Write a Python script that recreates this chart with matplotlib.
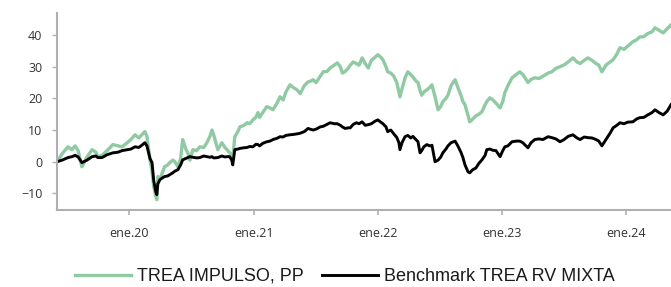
import matplotlib
matplotlib.use("Agg")
import matplotlib.pyplot as plt
import pandas as pd


fechas = ["2019-06-04","2019-06-19","2019-07-06","2019-07-18","2019-07-27","2019-08-05","2019-08-16","2019-08-31",
          "2019-09-15","2019-09-26","2019-10-02","2019-10-14","2019-10-29","2019-11-15","2019-11-30","2019-12-12",
          "2019-12-27","2020-01-07","2020-01-19","2020-01-30","2020-02-08","2020-02-17","2020-02-23","2020-03-03",
          "2020-03-09","2020-03-14","2020-03-20","2020-03-23","2020-03-26","2020-04-01","2020-04-10","2020-04-15",
          "2020-04-24","2020-04-30","2020-05-09","2020-05-15","2020-05-24","2020-06-01","2020-06-07","2020-06-16",
          "2020-06-22","2020-06-28","2020-07-07","2020-07-18","2020-07-27","2020-08-08","2020-08-17","2020-08-26",
          "2020-09-01","2020-09-06","2020-09-18","2020-09-30","2020-10-09","2020-10-15","2020-10-23","2020-10-29",
          "2020-11-01","2020-11-07","2020-11-16","2020-11-22","2020-12-04","2020-12-13","2020-12-21","2020-12-30",
          "2021-01-08","2021-01-14","2021-01-19","2021-01-28","2021-02-09","2021-02-18","2021-02-27","2021-03-11",
          "2021-03-20","2021-03-29","2021-04-06","2021-04-18","2021-04-27","2021-05-09","2021-05-18","2021-05-30",
          "2021-06-10","2021-06-19","2021-06-25","2021-07-04","2021-07-16","2021-07-25","2021-08-05","2021-08-14",
          "2021-08-26","2021-09-04","2021-09-13","2021-09-19","2021-09-27","2021-10-06","2021-10-12","2021-10-21",
          "2021-10-30","2021-11-07","2021-11-16","2021-11-25","2021-12-04","2021-12-13","2021-12-24","2022-01-01",
          "2022-01-10","2022-01-16","2022-01-25","2022-01-30","2022-02-08","2022-02-17","2022-02-26","2022-03-04",
          "2022-03-07","2022-03-13","2022-03-22","2022-03-30","2022-04-08","2022-04-14","2022-04-23","2022-04-29",
          "2022-05-05","2022-05-10","2022-05-16","2022-05-25","2022-06-03","2022-06-09","2022-06-18","2022-06-27",
          "2022-07-05","2022-07-11","2022-07-20","2022-07-26","2022-08-04","2022-08-16","2022-08-24","2022-09-02",
          "2022-09-08","2022-09-14","2022-09-23","2022-09-28","2022-10-07","2022-10-16","2022-10-25","2022-11-03",
          "2022-11-12","2022-11-17","2022-11-26","2022-12-05","2022-12-14","2022-12-26","2023-01-03","2023-01-09",
          "2023-01-18","2023-01-30","2023-02-11","2023-02-22","2023-03-03","2023-03-12","2023-03-18","2023-03-27",
          "2023-04-07","2023-04-19","2023-05-01","2023-05-16","2023-05-27","2023-06-08","2023-06-20","2023-07-02",
          "2023-07-14","2023-07-28","2023-08-09","2023-08-18","2023-08-30","2023-09-10","2023-09-22","2023-10-04",
          "2023-10-12","2023-10-21","2023-11-02","2023-11-14","2023-11-23","2023-12-04","2023-12-13","2023-12-25",
          "2024-01-05","2024-01-20","2024-01-31","2024-02-09","2024-02-21","2024-03-04","2024-03-16","2024-03-25",
          "2024-04-06","2024-04-18","2024-04-30","2024-05-11"]

# TREA IMPULSO, PP (rentabilidad acumulada %)
impulso = [0, 2.5, 4.7, 3.8, 5.0, 3.5, -1.6, 1.5,
           3.8, 3.0, 1.6, 2.0, 3.5, 5.4, 5.0, 4.7,
           6.0, 7.0, 8.5, 7.5, 8.5, 9.5, 8.0, 0.6,
           -3, -7.9, -11, -12, -4.7, -5.5, -3, -1.6,
           -1.0, -0.3, 0.5, 0, -1.6, 1.0, 7, 4.0,
           2.8, 0.5, 3.8, 3.5, 4.7, 4.5, 6.0, 8.0,
           10.0, 8.5, 3.8, 6.0, 4.5, 3.8, 2.8, 2.2,
           1.0, 7.9, 9.5, 11.0, 11.5, 12.3, 12.0, 13.2,
           14.0, 15.5, 14.0, 15.5, 17.4, 17.0, 16.4, 18.5,
           20.5, 19.5, 22.0, 24.3, 23.5, 22.7, 21.5, 24.0,
           25.2, 25.5, 25.9, 25.0, 27.0, 28.4, 28.5, 29.6,
           30.5, 31.2, 30.0, 28.0, 28.5, 29.5, 30.5, 31.5,
           31.0, 30.5, 32.8, 31.0, 29.6, 32.0, 33.0, 33.8,
           33.0, 32.2, 30.0, 28.4, 28.0, 27.0, 24.9, 22.0,
           20.5, 23.0, 26.5, 28.4, 27.5, 26.8, 25.5, 25.0,
           22.5, 21.0, 22.0, 22.7, 23.5, 24.3, 20.5, 16.4,
           17.5, 19.0, 20.0, 21.0, 24.0, 25.9, 23.5, 21.0,
           19.0, 18.0, 14.5, 12.6, 13.5, 14.5, 15.0, 15.8,
           18.0, 19.0, 20.2, 19.5, 18.5, 17.0, 19.0, 21.8,
           24.0, 26.5, 27.5, 28.4, 27.5, 26.0, 25.0, 26.0,
           26.5, 26.3, 27.0, 28.0, 28.4, 29.5, 30.0, 30.6,
           31.5, 32.8, 31.5, 31.0, 32.0, 32.8, 32.0, 31.0,
           30.5, 28.4, 30.5, 31.5, 32.2, 34.0, 36.0, 35.5,
           36.5, 37.9, 38.5, 39.4, 39.5, 40.5, 41.0, 42.3,
           41.5, 40.7, 42.0, 43.2]

# Benchmark TREA RV MIXTA
benchmark = [0, 0.5, 1.3, 1.6, 2.0, 1.5, -0.3, 0.5,
             1.6, 1.8, 1.3, 1.3, 2.2, 2.8, 3.0, 3.5,
             3.8, 4.0, 4.7, 4.5, 5.2, 6.0, 5.0, 1.0,
             -0.3, -6, -9.5, -10.4, -7, -5.7, -5.0, -4.7,
             -4.5, -4.1, -3.5, -3.0, -2.5, -1.0, 0.6, 1.0,
             1.3, 1.6, 1.4, 1.2, 1.3, 1.8, 1.6, 1.4,
             1.6, 1.2, 1.3, 1.8, 1.5, 1.6, 1.6, 0.5,
             -1.0, 3.8, 4.0, 4.2, 4.4, 4.5, 4.8, 4.7,
             5.5, 5.4, 5.0, 5.8, 6.3, 6.5, 7.0, 7.4,
             7.9, 7.8, 8.3, 8.5, 8.6, 8.8, 9.0, 9.5,
             10.5, 10.2, 10.0, 10.3, 11.0, 11.2, 11.8, 12.3,
             12.0, 12.0, 11.5, 11.0, 10.5, 10.7, 10.7, 11.8,
             12.3, 12.0, 12.6, 11.5, 11.7, 12.0, 12.8, 13.2,
             12.5, 12.0, 11.0, 9.5, 10.0, 8.8, 7.6, 6.0,
             3.8, 6.0, 7.9, 8.3, 7.5, 8.0, 7.0, 6.3,
             2.8, 3.5, 4.7, 5.4, 5.0, 5.2, 0.0, 0.5,
             1.5, 2.8, 4.0, 5.0, 6.0, 6.5, 5.0, 3.0,
             1.3, -1.0, -3.2, -3.5, -2.5, -2.0, -0.5, 0.6,
             2.0, 3.8, 4.0, 3.6, 3.5, 1.6, 3.5, 4.7,
             5.0, 6.3, 6.5, 6.5, 6.0, 5.0, 4.4, 6.0,
             7.0, 7.2, 7.0, 7.9, 7.6, 7.2, 6.3, 7.0,
             8.0, 8.5, 7.5, 7.0, 7.8, 7.6, 7.5, 7.0,
             6.5, 5.0, 7.0, 9.0, 10.7, 11.5, 12.3, 12.0,
             12.5, 12.6, 13.5, 13.9, 14.0, 14.8, 15.5, 16.4,
             15.5, 14.8, 16.0, 18.0]

ticks_x = ["2020-01-01", "2021-01-01", "2022-01-01", "2023-01-01", "2024-01-01"]
etiquetas_x = ["ene.20", "ene.21", "ene.22", "ene.23", "ene.24"]
ticks_y = [-10, 0, 10, 20, 30, 40]

verde = "#8fcaa3"
gris = "#b0b0b0"

df = pd.DataFrame({"fecha": pd.to_datetime(fechas), "impulso": impulso, "benchmark": benchmark})

fig = plt.figure(figsize=(6.71, 2.87), dpi=100)
ax = fig.add_axes([0.085, 0.270, 0.915, 0.685])

ax.plot(df["fecha"], df["impulso"], color=verde, lw=2.4, label="TREA IMPULSO, PP", solid_joinstyle="round")
ax.plot(df["fecha"], df["benchmark"], color="black", lw=2.1, label="Benchmark TREA RV MIXTA", solid_joinstyle="round")

ax.set_xlim(pd.Timestamp("2019-06-04"), pd.Timestamp("2024-05-11"))
ax.set_ylim(-15.1, 47)

ax.set_xticks(pd.to_datetime(ticks_x))
ax.set_xticklabels(etiquetas_x)
ax.set_yticks(ticks_y)

for s in ["top", "right"]:
    ax.spines[s].set_visible(False)
for s in ["left", "bottom"]:
    ax.spines[s].set_color(gris)
    ax.spines[s].set_linewidth(1.5)

ax.tick_params(axis="x", colors=gris, length=3.6, width=1.2, pad=9, labelcolor="#333333", labelsize=9)
ax.tick_params(axis="y", colors=gris, length=3.6, width=1.0, pad=7, labelcolor="#333333", labelsize=9)
for lab in ax.get_xticklabels() + ax.get_yticklabels():
    lab.set_family(["Open Sans", "DejaVu Sans"])

leg = fig.legend(loc="center", bbox_to_anchor=(0.514, 0.037), ncol=2, frameon=False,
                 handlelength=3.1, columnspacing=1.0, handletextpad=0.33,
                 prop={"family": ["Liberation Sans", "DejaVu Sans"], "size": 13})
for t in leg.get_texts():
    t.set_color("#1a1a1a")

fig.savefig("out.png", dpi=100)
